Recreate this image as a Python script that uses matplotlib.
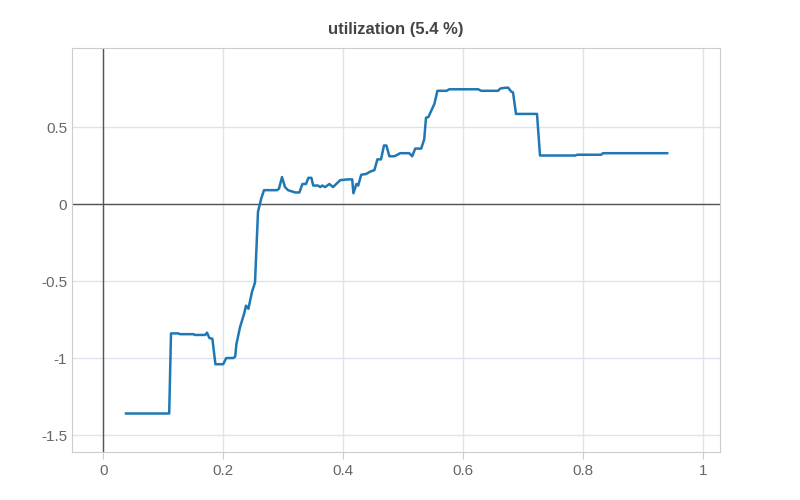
import matplotlib
matplotlib.use("Agg")
import matplotlib.pyplot as plt
plt.rcParams['font.family'] = ['Liberation Sans', 'DejaVu Sans']

x = [0.038, 0.11, 0.113, 0.125, 0.128, 0.15, 0.153, 0.17, 0.173, 0.177, 0.182, 0.187, 0.2, 0.205,
     0.217, 0.22, 0.222, 0.228, 0.235, 0.238, 0.242, 0.248, 0.253, 0.258, 0.263, 0.268, 0.29,
     0.293, 0.298, 0.303, 0.308, 0.32, 0.327, 0.332, 0.338, 0.342, 0.347, 0.35, 0.358, 0.362,
     0.365, 0.37, 0.377, 0.383, 0.395, 0.408, 0.415, 0.417, 0.422, 0.425, 0.43, 0.438, 0.445,
     0.448, 0.452, 0.457, 0.463, 0.468, 0.472, 0.477, 0.485, 0.488, 0.495, 0.51, 0.515, 0.52,
     0.53, 0.535, 0.538, 0.542, 0.552, 0.557, 0.572, 0.577, 0.625, 0.63, 0.658, 0.662, 0.67,
     0.675, 0.68, 0.683, 0.688, 0.723, 0.728, 0.787, 0.79, 0.83, 0.833, 0.94]
y = [-1.36, -1.36, -0.84, -0.84, -0.845, -0.845, -0.85, -0.85, -0.835, -0.87, -0.875, -1.04, -1.04, -1.0,
     -1.0, -0.99, -0.91, -0.8, -0.71, -0.66, -0.68, -0.57, -0.51, -0.05, 0.03, 0.09, 0.09,
     0.1, 0.175, 0.11, 0.09, 0.075, 0.075, 0.13, 0.13, 0.17, 0.17, 0.12, 0.12, 0.11,
     0.12, 0.11, 0.13, 0.11, 0.155, 0.16, 0.16, 0.07, 0.13, 0.12, 0.19, 0.195, 0.21,
     0.215, 0.22, 0.29, 0.29, 0.38, 0.38, 0.31, 0.31, 0.315, 0.33, 0.33, 0.31, 0.36,
     0.36, 0.42, 0.56, 0.565, 0.65, 0.735, 0.735, 0.745, 0.745, 0.735, 0.735, 0.75, 0.755,
     0.755, 0.73, 0.725, 0.585, 0.585, 0.315, 0.315, 0.32, 0.32, 0.33, 0.33]
x_ticks = [0, 0.2, 0.4, 0.6, 0.8, 1]
x_labels = ["0", "0.2", "0.4", "0.6", "0.8", "1"]
y_ticks = [-1.5, -1, -0.5, 0, 0.5]
y_labels = ["-1.5", "-1", "-0.5", "0", "0.5"]

fig = plt.figure(figsize=(8, 5), dpi=100)
ax = fig.add_axes([0.09, 0.096, 0.81, 0.808])
ax.plot(x, y, color="#1f77b4", lw=1.8, zorder=3)
ax.set_xlim(-0.052, 1.028)
ax.set_ylim(-1.61, 1.013)
ax.set_xticks(x_ticks, x_labels)
ax.set_yticks(y_ticks, y_labels)
ax.grid(True, color="#dfe3ee", lw=1)
ax.axhline(0, color="#555555", lw=1, zorder=2)
ax.axvline(0, color="#555555", lw=1, zorder=2)
for s in ax.spines.values():
    s.set_color("#cccccc")
ax.tick_params(colors="#666666", labelsize=11, length=5)
ax.tick_params(axis="x", color="#cccccc")
ax.tick_params(axis="y", length=0)
ax.set_title("utilization (5.4 %)", fontsize=12, fontweight="bold", color="#444444", pad=10)
fig.savefig("out.png")
